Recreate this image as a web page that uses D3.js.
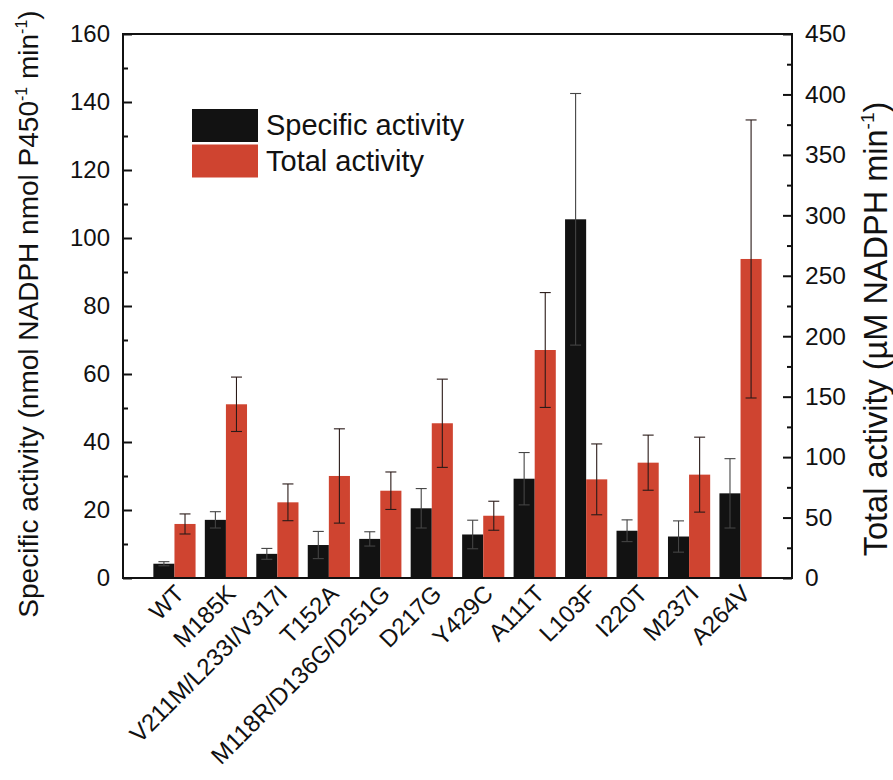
<!DOCTYPE html>
<html>
<head>
<meta charset="utf-8">
<script src="https://cdn.jsdelivr.net/npm/d3@7"></script>
<style>
  html, body { margin: 0; padding: 0; background: #fff; }
  svg { display: block; font-family: "Liberation Sans", Arial, sans-serif; }
</style>
</head>
<body>
<svg id="chart" width="893" height="780"></svg>
<script>
// Mutant panel
const categories = ["WT", "M185K", "V211M/L233I/V317I", "T152A", "M118R/D136G/D251G",
  "D217G", "Y429C", "A111T", "L103F", "I220T", "M237I", "A264V"];

// Specific activity (nmol NADPH nmol P450^-1 min^-1), left axis
const specificActivity = [4.2, 17.1, 7.1, 9.7, 11.5, 20.5, 12.8, 29.2, 105.5, 13.9, 12.2, 24.9];
const specificError    = [0.6, 2.4, 1.6, 4.0, 2.1, 5.8, 4.2, 7.7, 37.0, 3.2, 4.6, 10.2];

// Total activity (µM NADPH min^-1), right axis
const totalActivity = [44.7, 143.7, 62.6, 84.4, 72.2, 128.0, 51.5, 188.6, 81.6, 95.4, 85.5, 263.9];
const totalError    = [8.3, 22.5, 15.2, 39.0, 15.5, 36.5, 12.0, 47.5, 29.3, 22.8, 31.0, 115.0];

const leftTicks  = [0, 20, 40, 60, 80, 100, 120, 140, 160];
const rightTicks = [0, 50, 100, 150, 200, 250, 300, 350, 400, 450];

const seriesNames = ["Specific activity", "Total activity"];

const BLACK = "#121212";
const RED = "#cf4430";

const svg = d3.select("#chart");
const margin = { left: 123, right: 101, top: 34, bottom: 202 };
const W = 893, H = 780;
const x0 = margin.left, x1 = W - margin.right;
const y0 = H - margin.bottom, y1 = margin.top;

const x = d3.scalePoint().domain(categories).range([x0, x1]).padding(1);
const step = x.step();
const barW = step * 0.41;

const yL = d3.scaleLinear().domain([0, 160]).range([y0, y1]);
const yR = d3.scaleLinear().domain([0, 450]).range([y0, y1]);

// Bars
const g = svg.append("g");
g.selectAll("rect.spec").data(categories).join("rect")
  .attr("class", "spec")
  .attr("x", d => x(d) - barW)
  .attr("width", barW)
  .attr("y", (d, i) => yL(specificActivity[i]))
  .attr("height", (d, i) => y0 - yL(specificActivity[i]))
  .attr("fill", BLACK);

g.selectAll("rect.total").data(categories).join("rect")
  .attr("class", "total")
  .attr("x", d => x(d))
  .attr("width", barW)
  .attr("y", (d, i) => yR(totalActivity[i]))
  .attr("height", (d, i) => y0 - yR(totalActivity[i]))
  .attr("fill", RED);

// Error bars
const capW = 11;
function errorBars(cls, vals, errs, scale, dx, color) {
  const eg = g.selectAll("g." + cls).data(categories).join("g")
    .attr("class", cls)
    .attr("stroke", color).attr("stroke-width", 1.1).attr("fill", "none");
  eg.append("line")
    .attr("x1", d => x(d) + dx).attr("x2", d => x(d) + dx)
    .attr("y1", (d, i) => scale(vals[i] - errs[i]))
    .attr("y2", (d, i) => scale(vals[i] + errs[i]));
  eg.append("line")
    .attr("x1", d => x(d) + dx - capW / 2).attr("x2", d => x(d) + dx + capW / 2)
    .attr("y1", (d, i) => scale(vals[i] + errs[i]))
    .attr("y2", (d, i) => scale(vals[i] + errs[i]));
  eg.append("line")
    .attr("x1", d => x(d) + dx - capW / 2).attr("x2", d => x(d) + dx + capW / 2)
    .attr("y1", (d, i) => scale(vals[i] - errs[i]))
    .attr("y2", (d, i) => scale(vals[i] - errs[i]));
}
errorBars("errSpec", specificActivity, specificError, yL, -barW / 2, "#444");
errorBars("errTotal", totalActivity, totalError, yR, barW / 2, "#2a1a18");

// Left axis: major ticks with labels, minor ticks between them
const leftMinor = d3.range(10, 160, 20);
svg.append("g").attr("transform", `translate(${x0},0)`)
  .call(d3.axisLeft(yL).tickValues(leftTicks).tickSize(-9).tickPadding(13).tickFormat(d3.format("d")))
  .call(a => a.select(".domain").remove())
  .call(a => a.selectAll("line").attr("stroke", "#111").attr("stroke-width", 2))
  .call(a => a.selectAll("text").attr("font-size", 24).attr("fill", "#111")
    .attr("font-family", "Liberation Sans, Arial, sans-serif"));
svg.append("g").attr("transform", `translate(${x0},0)`)
  .call(d3.axisLeft(yL).tickValues(leftMinor).tickSize(-5).tickFormat(""))
  .call(a => a.select(".domain").remove())
  .call(a => a.selectAll("line").attr("stroke", "#111").attr("stroke-width", 2));

// Right axis
const rightMinor = d3.range(25, 450, 50);
svg.append("g").attr("transform", `translate(${x1},0)`)
  .call(d3.axisRight(yR).tickValues(rightTicks).tickSize(-9).tickPadding(13).tickFormat(d3.format("d")))
  .call(a => a.select(".domain").remove())
  .call(a => a.selectAll("line").attr("stroke", "#111").attr("stroke-width", 2))
  .call(a => a.selectAll("text").attr("font-size", 24.5).attr("fill", "#111")
    .attr("font-family", "Liberation Sans, Arial, sans-serif"));
svg.append("g").attr("transform", `translate(${x1},0)`)
  .call(d3.axisRight(yR).tickValues(rightMinor).tickSize(-5).tickFormat(""))
  .call(a => a.select(".domain").remove())
  .call(a => a.selectAll("line").attr("stroke", "#111").attr("stroke-width", 2));

// Frame
svg.append("rect")
  .attr("x", x0).attr("y", y1).attr("width", x1 - x0).attr("height", y0 - y1)
  .attr("fill", "none").attr("stroke", "#111").attr("stroke-width", 2);

// Category labels, rotated
svg.append("g").selectAll("text").data(categories).join("text")
  .attr("transform", d => `translate(${x(d) - 1},${y0 + 5}) rotate(-45)`)
  .attr("text-anchor", "end")
  .attr("dy", "0.72em")
  .attr("font-size", 24)
  .attr("fill", "#111")
  .text(d => d);

// Axis titles
const leftTitle = svg.append("text")
  .attr("transform", `translate(38,${(y0 + y1) / 2 + 8}) rotate(-90)`)
  .attr("text-anchor", "middle")
  .attr("font-size", 28)
  .attr("fill", "#111");
leftTitle.append("tspan").text("Specific activity (nmol NADPH nmol P450");
leftTitle.append("tspan").attr("dy", -11).attr("font-size", 16).text("-1");
leftTitle.append("tspan").attr("dy", 11).text(" min");
leftTitle.append("tspan").attr("dy", -11).attr("font-size", 16).text("-1");
leftTitle.append("tspan").attr("dy", 11).text(")");

const rightTitle = svg.append("text")
  .attr("transform", `translate(887,329) rotate(-90)`)
  .attr("text-anchor", "middle")
  .attr("font-size", 32.5)
  .attr("fill", "#111");
rightTitle.append("tspan").text("Total activity (\u00B5M NADPH min");
rightTitle.append("tspan").attr("dy", -13).attr("font-size", 19).text("-1");
rightTitle.append("tspan").attr("dy", 13).text(")");

// Legend
const legend = svg.append("g").attr("transform", "translate(192,109)");
const legendColors = [BLACK, RED];
seriesNames.forEach((name, i) => {
  legend.append("rect")
    .attr("x", 0).attr("y", i * 35.5).attr("width", 66).attr("height", 33)
    .attr("fill", legendColors[i]);
  legend.append("text")
    .attr("x", 74).attr("y", i * 35.5 + 26)
    .attr("font-size", 29).attr("fill", "#111")
    .text(name);
});
</script>
</body>
</html>
